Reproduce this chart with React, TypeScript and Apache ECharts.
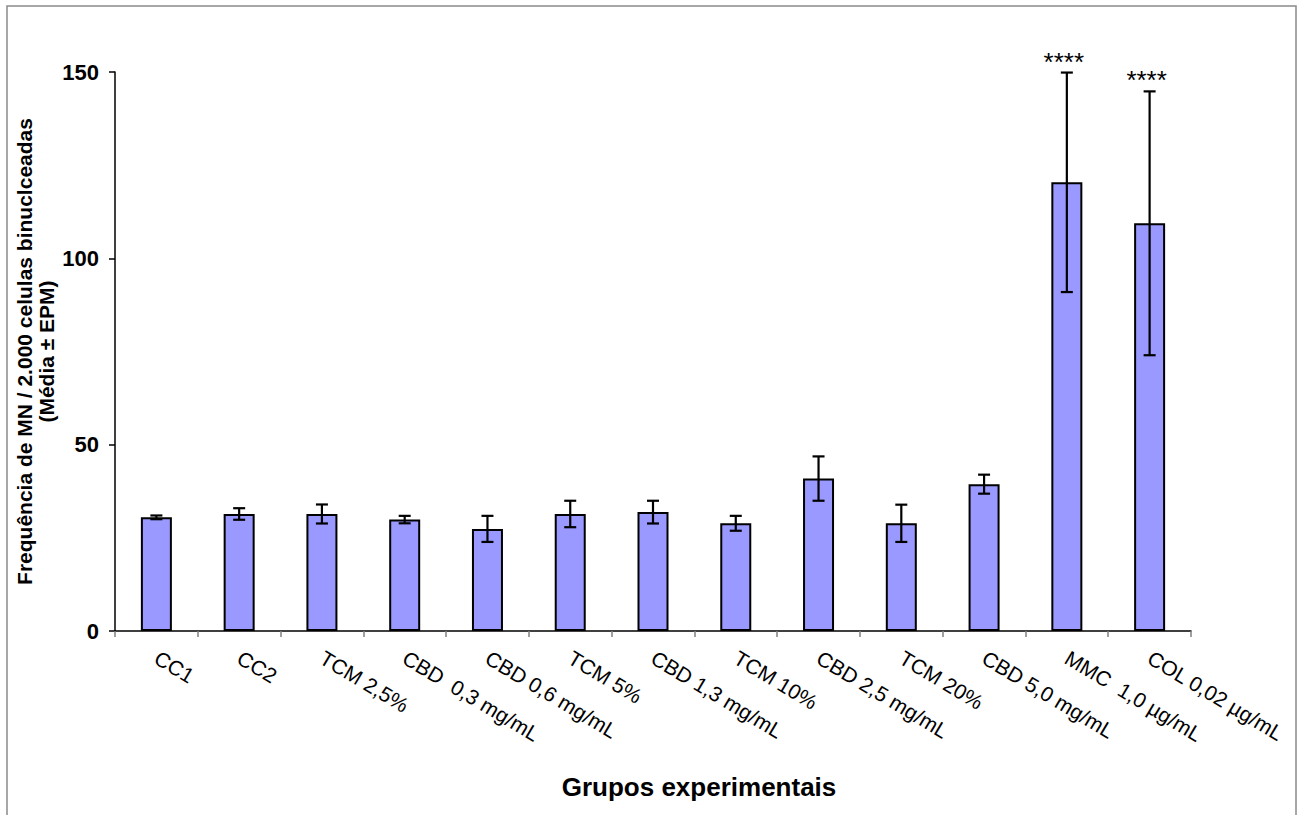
import React, { useEffect, useRef } from "react";
import * as echarts from "echarts";

const categories = [
  "CC1",
  "CC2",
  "TCM 2,5%",
  "CBD  0,3 mg/mL",
  "CBD 0,6 mg/mL",
  "TCM 5%",
  "CBD 1,3 mg/mL",
  "TCM 10%",
  "CBD 2,5 mg/mL",
  "TCM 20%",
  "CBD 5,0 mg/mL",
  "MMC  1,0 µg/mL",
  "COL 0,02 µg/mL",
];
const means = [30.5, 31.4, 31.4, 29.9, 27.4, 31.4, 31.9, 28.9, 40.9, 28.9, 39.4, 120.4, 109.4];
const errors = [0.5, 1.55, 2.55, 1.0, 3.5, 3.55, 3.05, 2.0, 5.95, 5.0, 2.55, 29.45, 35.4];
const significance = ["", "", "", "", "", "", "", "", "", "", "", "****", "****"];
const yTicks = [0, 50, 100, 150];

export default function App() {
  const ref = useRef<HTMLDivElement>(null);
  useEffect(() => {
    if (!ref.current) return;
    const chart = echarts.init(ref.current, null, { renderer: "svg" });
    const font = "Arial, 'Liberation Sans', sans-serif";
    const errData = means.map((m, i) => [i, m - errors[i], m + errors[i], significance[i]]);
    chart.setOption({
      animation: false,
      backgroundColor: "#ffffff",
      textStyle: { fontFamily: font },
      grid: { left: 115, right: 110, top: 72, bottom: 184, containLabel: false },
      xAxis: {
        type: "category",
        data: categories,
        axisLine: { lineStyle: { color: "#000", width: 1.5 } },
        axisTick: { show: true, length: 6, lineStyle: { color: "#808080", width: 1.5 } },
        axisLabel: {
          rotate: -31,
          margin: 25,
          fontSize: 21,
          color: "#000",
          fontFamily: font,
          interval: 0,
        },
      },
      yAxis: {
        type: "value",
        min: yTicks[0],
        max: yTicks[yTicks.length - 1],
        interval: 50,
        name: "Frequência de MN / 2.000 celulas binuclceadas\n(Média ± EPM)",
        nameLocation: "middle",
        nameRotate: 90,
        nameGap: 58,
        nameMoveOverlap: false,
        nameTextStyle: {
          fontSize: 21,
          fontWeight: "bold",
          color: "#000",
          lineHeight: 22,
          fontFamily: font,
        },
        axisLine: { show: true, lineStyle: { color: "#000", width: 1.5 } },
        axisTick: { show: true, length: 6, lineStyle: { color: "#000", width: 1.5 } },
        splitLine: { show: false },
        axisLabel: {
          fontSize: 22,
          fontWeight: "bold",
          color: "#000",
          margin: 16,
          fontFamily: font,
        },
      },
      graphic: [
        {
          type: "rect",
          shape: { x: 7, y: 6, width: 1289, height: 830 },
          style: { fill: "none", stroke: "#8a8a8a", lineWidth: 1.5 },
          silent: true,
          z: -1,
        },
        {
          type: "text",
          x: 699,
          y: 787,
          style: {
            text: "Grupos experimentais",
            font: "bold 26px " + font,
            fill: "#000",
            textAlign: "center",
            textVerticalAlign: "middle",
          },
        },
      ],
      series: [
        {
          type: "bar",
          data: means,
          barWidth: 31,
          itemStyle: { color: "#9999FF", borderColor: "#000", borderWidth: 2 },
        },
        {
          type: "custom",
          data: errData,
          z: 10,
          renderItem: (params: any, api: any) => {
            const i = api.value(0);
            const lo = api.coord([i, api.value(1)]);
            const hi = api.coord([i, api.value(2)]);
            const x = lo[0];
            const hw = 6;
            const st = { stroke: "#000", lineWidth: 2.2 };
            const children: any[] = [
              { type: "line", shape: { x1: x, y1: lo[1], x2: x, y2: hi[1] }, style: st },
              { type: "line", shape: { x1: x - hw, y1: lo[1], x2: x + hw, y2: lo[1] }, style: st },
              { type: "line", shape: { x1: x - hw, y1: hi[1], x2: x + hw, y2: hi[1] }, style: st },
            ];
            const sig = significance[params.dataIndex];
            if (sig) {
              children.push({
                type: "text",
                x: x - 3,
                y: hi[1] + 2,
                style: {
                  text: sig,
                  font: "26px " + font,
                  fill: "#000",
                  textAlign: "center",
                  textVerticalAlign: "bottom",
                },
              });
            }
            return { type: "group", children };
          },
        },
      ],
    });
    return () => chart.dispose();
  }, []);
  return (
    <div
      ref={ref}
      style={{ position: "fixed", left: 0, top: 0, width: 1301, height: 815, background: "#fff" }}
    />
  );
}
